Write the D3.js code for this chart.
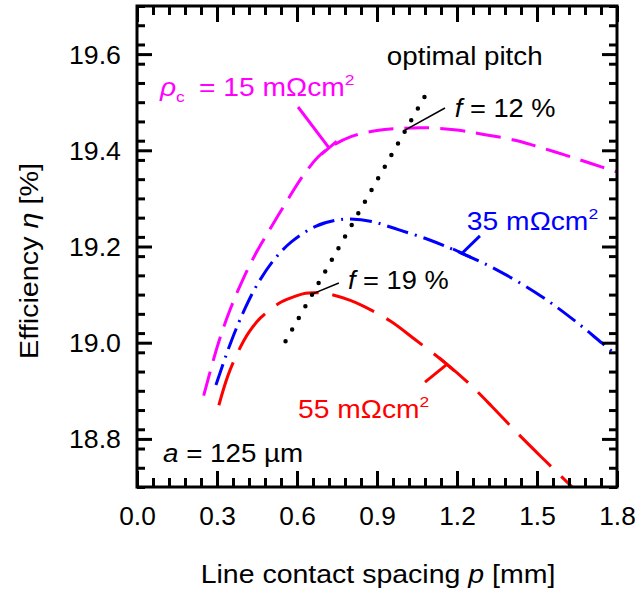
<!DOCTYPE html>
<html>
<head>
<meta charset="utf-8">
<script src="https://cdn.jsdelivr.net/npm/d3@7"></script>
<style>
  html, body { margin: 0; padding: 0; background: #fff; }
  svg { display: block; font-family: Arial, "Liberation Sans", sans-serif; }
</style>
</head>
<body>
<svg id="chart" width="635" height="594"></svg>
<script>
// Efficiency vs. line contact spacing for three contact resistivities
const rho15 = [
  [0.25, 18.89], [0.305, 18.999], [0.35, 19.07], [0.40, 19.135], [0.45, 19.19],
  [0.49, 19.228], [0.565, 19.297], [0.62, 19.345], [0.677, 19.385], [0.72, 19.405],
  [0.80, 19.428], [0.90, 19.441], [1.00, 19.446], [1.08, 19.447], [1.20, 19.442],
  [1.30, 19.433], [1.418, 19.421], [1.50, 19.408], [1.606, 19.39], [1.70, 19.373], [1.80, 19.355]
];
const rho35 = [
  [0.296, 18.912], [0.35, 18.998], [0.40, 19.065], [0.45, 19.12], [0.513, 19.172],
  [0.58, 19.21], [0.67, 19.242], [0.75, 19.255], [0.80, 19.257], [0.88, 19.252],
  [0.98, 19.235], [1.10, 19.213], [1.205, 19.189], [1.351, 19.151], [1.52, 19.095],
  [1.65, 19.042], [1.744, 18.999], [1.80, 18.974]
];
const rho55 = [
  [0.307, 18.87], [0.34, 18.93], [0.378, 18.98], [0.42, 19.022], [0.464, 19.052],
  [0.539, 19.084], [0.60, 19.098], [0.632, 19.103], [0.66, 19.104], [0.714, 19.102],
  [0.80, 19.088], [0.845, 19.077], [0.95, 19.045], [1.044, 19.006], [1.156, 18.958],
  [1.243, 18.916], [1.33, 18.868], [1.43, 18.81], [1.53, 18.755], [1.632, 18.70]
];
// Optimal pitch line (f from 19 % to 12 %)
const optimalPitch = [[0.557, 19.003], [1.078, 19.511]];

const xTicks = [0.0, 0.3, 0.6, 0.9, 1.2, 1.5, 1.8];
const xTickLabels = ["0.0", "0.3", "0.6", "0.9", "1.2", "1.5", "1.8"];
const yTicks = [18.8, 19.0, 19.2, 19.4, 19.6];
const yTickLabels = ["18.8", "19.0", "19.2", "19.4", "19.6"];
const xMinorStep = 0.06;
const yMinorStep = 0.04;

const series = [
  { data: rho15, color: "#ff00ff", dash: "25 11" },
  { data: rho35, color: "#0000ff", dash: "22 7 2 7" },
  { data: rho55, color: "#ff0000", dash: "45 14" }
];

// Curve labels: text anchor and leader line (from, to) in data units
const curveLabels = [
  { series: 0, at: [0.086, 19.513], leader: [[0.604, 19.49], [0.72, 19.405]] },
  { series: 1, at: [1.237, 19.234], leader: [[1.286, 19.222], [1.219, 19.186]] },
  { series: 2, at: [0.604, 18.843], leader: [[1.08, 18.918], [1.162, 18.955]] }
];
const fLabels = [
  { value: "12", at: [1.192, 19.469], leader: [[1.005, 19.442], [1.155, 19.488]] },
  { value: "19", at: [0.791, 19.112], leader: [[0.656, 19.101], [0.757, 19.124]] }
];

const svg = d3.select("#chart");
const M = { left: 137, right: 617, top: 6, bottom: 487 };
const x = d3.scaleLinear().domain([0, 1.8]).range([M.left, M.right]);
const y = d3.scaleLinear().domain([18.7, 19.7]).range([M.bottom, M.top]);
const FS = 25;

// text placed at (px, py) and widened horizontally by sx
function label(px, py, sx, extra) {
  return svg.append("text")
    .attr("transform", `translate(${px},${py}) ${extra || ""} scale(${sx},1)`)
    .attr("font-size", FS);
}

svg.append("defs").append("clipPath").attr("id", "plot")
  .append("rect").attr("x", M.left).attr("y", M.top)
  .attr("width", M.right - M.left).attr("height", M.bottom - M.top);

const line = d3.line().x(d => x(d[0])).y(d => y(d[1])).curve(d3.curveCatmullRom.alpha(0.5));

const plot = svg.append("g").attr("clip-path", "url(#plot)");

// Curves
series.forEach(s => {
  plot.append("path").datum(s.data)
    .attr("d", line).attr("fill", "none")
    .attr("stroke", s.color).attr("stroke-width", 3)
    .attr("stroke-dasharray", s.dash);
});

// Optimal pitch dotted line
const opt = plot.append("path").datum(optimalPitch)
  .attr("d", d3.line().x(d => x(d[0])).y(d => y(d[1])))
  .attr("fill", "none").attr("stroke", "#000")
  .attr("stroke-width", 4.5).attr("stroke-linecap", "round");
const optLen = opt.node().getTotalLength();
opt.attr("stroke-dasharray", `0 ${optLen / 21}`);

// direction of a series at p (linear between neighbours), in pixel space
function tangentAt(data, p) {
  let i = d3.bisector(d => d[0]).left(data, p);
  i = Math.max(1, Math.min(data.length - 1, i));
  const a = data[i - 1], b = data[i];
  const dx = x(b[0]) - x(a[0]), dy = y(b[1]) - y(a[1]);
  const L = Math.hypot(dx, dy);
  return [dx / L, dy / L];
}

// Curve labels with leaders
curveLabels.forEach((c, k) => {
  const s = series[c.series];
  const [p0, p1] = c.leader;
  svg.append("line")
    .attr("x1", x(p0[0])).attr("y1", y(p0[1]))
    .attr("x2", x(p1[0])).attr("y2", y(p1[1]))
    .attr("stroke", s.color).attr("stroke-width", 3);
  const t = tangentAt(s.data, p1[0]);
  const h = 10;
  svg.append("line")
    .attr("x1", x(p1[0]) - t[0] * h).attr("y1", y(p1[1]) - t[1] * h)
    .attr("x2", x(p1[0]) + t[0] * h).attr("y2", y(p1[1]) + t[1] * h)
    .attr("stroke", s.color).attr("stroke-width", 3);

  const txt = label(x(c.at[0]), y(c.at[1]), 1.13).attr("fill", s.color);
  if (k === 0) {
    txt.append("tspan").attr("font-style", "italic").text("ρ");
    txt.append("tspan").attr("font-size", FS * 0.62).attr("dy", 6).text("c");
    txt.append("tspan").attr("dy", -6).text("\u2002= 15 mΩcm");
  } else {
    txt.append("tspan").text(k === 1 ? "35 mΩcm" : "55 mΩcm");
  }
  txt.append("tspan").attr("font-size", FS * 0.62).attr("dy", -11).text("2");
});

// f labels with thin leaders
fLabels.forEach(f => {
  const [p0, p1] = f.leader;
  svg.append("line")
    .attr("x1", x(p0[0])).attr("y1", y(p0[1]))
    .attr("x2", x(p1[0])).attr("y2", y(p1[1]))
    .attr("stroke", "#000").attr("stroke-width", 1.5);
  const txt = label(x(f.at[0]), y(f.at[1]), 1.09).attr("fill", "#000");
  txt.append("tspan").attr("font-style", "italic").text("f");
  txt.append("tspan").text(` = ${f.value} %`);
});

label(x(0.937), y(19.577), 1.11).text("optimal pitch");

const aTxt = label(x(0.0975), y(18.752), 1.11);
aTxt.append("tspan").attr("font-style", "italic").text("a");
aTxt.append("tspan").text(" = 125 µm");

// Axes: ticks inward on all four sides
function addAxis(axisGen, transform) {
  const g = svg.append("g").attr("transform", transform).call(axisGen);
  g.selectAll(".domain").remove();
  g.selectAll("line").attr("stroke", "#000").attr("stroke-width", 3);
  return g;
}
const xMinor = d3.range(0, 1.8 + 1e-9, xMinorStep);
const yMinor = d3.range(18.7, 19.7 + 1e-9, yMinorStep);

// bottom
addAxis(d3.axisBottom(x).tickValues(xMinor).tickSize(-9).tickFormat(""), `translate(0,${M.bottom})`);
const xb = addAxis(d3.axisBottom(x).tickValues(xTicks).tickSize(-16)
  .tickFormat((d, i) => xTickLabels[i]), `translate(0,${M.bottom})`);
xb.selectAll("text").attr("font-size", FS).attr("fill", "#000")
  .attr("font-family", "Arial, 'Liberation Sans', sans-serif")
  .attr("dy", null).attr("y", null)
  .attr("transform", "translate(0,38) scale(1.05,1)");
// top
addAxis(d3.axisTop(x).tickValues(xMinor).tickSize(-9).tickFormat(""), `translate(0,${M.top})`);
addAxis(d3.axisTop(x).tickValues(xTicks).tickSize(-16).tickFormat(""), `translate(0,${M.top})`);
// left
addAxis(d3.axisLeft(y).tickValues(yMinor).tickSize(-8).tickFormat(""), `translate(${M.left},0)`);
const yl = addAxis(d3.axisLeft(y).tickValues(yTicks).tickSize(-15)
  .tickFormat((d, i) => yTickLabels[i]), `translate(${M.left},0)`);
yl.selectAll("text").attr("font-size", FS).attr("fill", "#000")
  .attr("font-family", "Arial, 'Liberation Sans', sans-serif")
  .attr("x", null).attr("dy", "0.36em")
  .attr("transform", "translate(-16,0) scale(1.07,1)");
// right
addAxis(d3.axisRight(y).tickValues(yMinor).tickSize(-8).tickFormat(""), `translate(${M.right},0)`);
addAxis(d3.axisRight(y).tickValues(yTicks).tickSize(-15).tickFormat(""), `translate(${M.right},0)`);

// frame
svg.append("rect").attr("x", M.left).attr("y", M.top)
  .attr("width", M.right - M.left).attr("height", M.bottom - M.top)
  .attr("fill", "none").attr("stroke", "#000").attr("stroke-width", 3);

// axis titles
const xt = label(378, 583, 1.14).attr("text-anchor", "middle");
xt.append("tspan").text("Line contact spacing ");
xt.append("tspan").attr("font-style", "italic").text("p");
xt.append("tspan").text(" [mm]");

const yt = label(38, 261, 1.15, "rotate(-90)").attr("text-anchor", "middle");
yt.append("tspan").text("Efficiency ");
yt.append("tspan").attr("font-style", "italic").text("η");
yt.append("tspan").text(" [%]");
</script>
</body>
</html>
